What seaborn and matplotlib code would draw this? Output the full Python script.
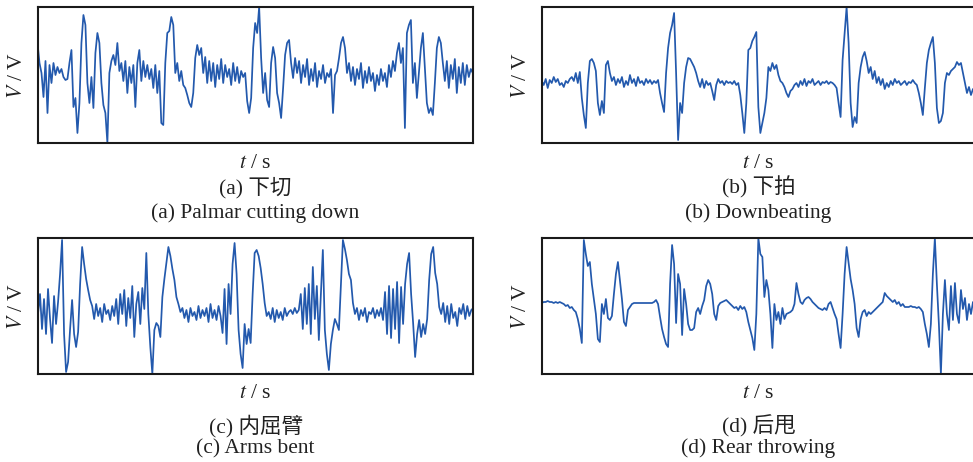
import numpy as np
import pandas as pd
import matplotlib
matplotlib.use("Agg")
import matplotlib.pyplot as plt
import seaborn as sns

# ---------------- data (signal amplitudes, arbitrary V units) ----------------
sig_a = [100, 80, 70, 46, 82, 30, 78, 60, 80, 68, 76, 70, 74, 66, 63, 64, 80, 93, 36, 45,
         10, 40, 100, 128, 118, 60, 40, 66, 35, 90, 110, 100, 60, 38, 30, 0, 70, 82, 88, 78,
         100, 72, 80, 62, 82, 50, 76, 60, 78, 36, 80, 93, 62, 82, 66, 78, 64, 74, 55, 78,
         50, 72, 20, 18, 80, 110, 112, 126, 118, 70, 80, 62, 72, 58, 55, 48, 40, 36, 50, 85,
         98, 88, 95, 70, 86, 60, 82, 62, 80, 56, 78, 64, 84, 60, 78, 66, 74, 58, 80, 62,
         76, 60, 72, 66, 70, 42, 30, 45, 95, 120, 110, 136, 85, 50, 70, 43, 36, 80, 96, 85,
         50, 40, 25, 55, 88, 100, 103, 80, 65, 85, 70, 82, 60, 78, 66, 84, 58, 74, 62, 80,
         56, 72, 64, 78, 60, 70, 66, 74, 30, 68, 72, 85, 100, 106, 95, 70, 80, 62, 76, 58,
         74, 64, 80, 55, 72, 60, 76, 62, 70, 52, 68, 58, 74, 62, 70, 56, 78, 66, 82, 72,
         90, 100, 80, 95, 15, 110, 118, 123, 60, 80, 45, 70, 95, 110, 75, 40, 30, 35, 28, 60,
         95, 106, 100, 80, 62, 82, 55, 78, 64, 84, 50, 76, 60, 80, 58, 78, 66, 74, 70]

sig_b = [62, 58, 64, 55, 63, 60, 66, 61, 64, 58, 60, 56, 62, 60, 64, 66, 62, 70, 60, 71,
         45, 28, 15, 60, 82, 84, 80, 72, 40, 28, 42, 30, 78, 82, 70, 62, 66, 58, 64, 60,
         66, 56, 62, 58, 68, 60, 64, 57, 66, 60, 62, 58, 64, 60, 63, 59, 62, 60, 63, 50,
         40, 31, 70, 95, 110, 118, 130, 70, 3, 40, 30, 60, 76, 85, 84, 80, 76, 70, 62, 56,
         64, 55, 62, 58, 60, 52, 43, 58, 64, 60, 62, 58, 62, 60, 61, 59, 62, 58, 60, 48,
         30, 10, 40, 93, 95, 102, 106, 111, 36, 10, 20, 30, 45, 76, 72, 80, 74, 78, 68, 62,
         60, 56, 50, 46, 52, 54, 58, 60, 56, 62, 58, 64, 57, 62, 60, 64, 58, 60, 62, 58,
         61, 60, 62, 59, 61, 60, 58, 55, 40, 26, 83, 110, 136, 100, 40, 16, 26, 20, 60, 76,
         86, 91, 82, 70, 76, 64, 72, 60, 66, 58, 64, 54, 60, 56, 62, 58, 64, 60, 62, 58,
         60, 62, 58, 61, 60, 63, 60, 58, 50, 40, 28, 55, 80, 93, 100, 106, 80, 35, 20, 22,
         30, 60, 70, 68, 72, 74, 76, 81, 78, 80, 70, 60, 50, 56, 48, 54, 52, 55]

sig_c = [60, 80, 45, 75, 40, 85, 55, 31, 78, 50, 72, 100, 134, 40, 2, 12, 45, 74, 40, 27,
         42, 90, 127, 110, 95, 84, 74, 68, 55, 70, 58, 66, 52, 70, 60, 64, 54, 68, 58, 75,
         50, 80, 60, 84, 48, 76, 56, 88, 37, 70, 82, 50, 86, 65, 121, 60, 27, 0, 44, 51,
         48, 37, 77, 95, 111, 127, 118, 105, 94, 77, 70, 62, 66, 56, 64, 52, 66, 58, 62, 54,
         68, 56, 64, 58, 66, 52, 70, 56, 64, 54, 68, 58, 41, 85, 30, 90, 60, 110, 131, 100,
         44, 20, 6, 50, 30, 45, 31, 80, 121, 124, 118, 106, 90, 71, 58, 62, 55, 66, 52, 64,
         56, 62, 54, 66, 58, 62, 64, 60, 66, 61, 64, 80, 45, 86, 50, 90, 40, 107, 55, 88,
         34, 80, 124, 44, 20, 4, 30, 44, 55, 50, 44, 90, 134, 125, 114, 100, 94, 71, 60, 66,
         54, 64, 58, 66, 52, 62, 60, 66, 56, 64, 58, 66, 54, 82, 40, 88, 36, 85, 45, 92,
         31, 87, 50, 90, 110, 121, 80, 51, 17, 40, 54, 37, 50, 40, 55, 94, 120, 127, 101, 90,
         67, 60, 71, 52, 68, 50, 70, 56, 62, 48, 66, 60, 70, 55, 68, 58, 64, 66]

sig_d = [71, 72, 72, 73, 72, 72, 71, 72, 71, 72, 71, 70, 68, 69, 66, 67, 64, 62, 55, 45,
         31, 134, 120, 108, 112, 90, 75, 60, 35, 32, 70, 60, 75, 56, 54, 58, 80, 100, 112, 94,
         75, 52, 48, 64, 67, 70, 71, 71, 71, 71, 71, 71, 71, 71, 71, 71, 72, 74, 70, 57,
         45, 37, 30, 27, 90, 129, 110, 51, 100, 90, 39, 85, 70, 50, 44, 44, 46, 62, 66, 60,
         68, 74, 88, 94, 90, 80, 60, 54, 68, 71, 72, 73, 74, 72, 70, 68, 66, 67, 64, 68,
         65, 67, 62, 52, 44, 36, 24, 60, 136, 120, 117, 77, 94, 84, 60, 26, 70, 54, 62, 50,
         66, 55, 60, 61, 62, 64, 70, 91, 80, 72, 70, 74, 76, 77, 75, 72, 70, 68, 66, 65,
         64, 66, 64, 70, 72, 66, 60, 55, 40, 26, 60, 100, 127, 111, 95, 84, 70, 46, 37, 55,
         62, 64, 58, 62, 60, 62, 64, 66, 68, 70, 72, 81, 78, 76, 74, 72, 74, 70, 72, 68,
         70, 67, 67, 67, 68, 67, 67, 66, 67, 65, 62, 50, 40, 27, 50, 100, 136, 90, 50, 0,
         60, 94, 60, 44, 88, 54, 91, 60, 51, 84, 65, 76, 54, 70, 60, 72, 67, 65]

signals = [sig_a, sig_b, sig_c, sig_d]
captions_cn = ["(a) 下切", "(b) 下拍", "(c) 内屈臂", "(d) 后甩"]
captions_en = ["(a) Palmar cutting down", "(b) Downbeating", "(c) Arms bent", "(d) Rear throwing"]
xlabel = "$t$ / s"
ylabel = "$V$ / V"

# ---------------- style ----------------
sns.set_style("white")
plt.rcParams["font.family"] = ["Liberation Serif", "Noto Sans CJK SC"]
plt.rcParams["mathtext.fontset"] = "stix"

W, H = 973, 462
fig = plt.figure(figsize=(W / 100, H / 100), dpi=100)

line_color = "#2359ad"
text_color = "#222222"
# axes boxes in pixels: (left, top, right, bottom)
boxes = [(37.5, 7, 472.8, 143), (541.7, 7, 977, 143),
         (38, 238, 473.3, 374), (541.7, 238, 977, 374)]
# text baselines in pixels: (xlabel y, cn y, en y, ylabel x)
text_rows = [(168, 193, 218, 18), (168, 193, 218, 521),
             (398, 432, 453, 18), (398, 432, 453, 521)]

for i, (sig, box) in enumerate(zip(signals, boxes)):
    l, t, r, b = box
    ax = fig.add_axes([l / W, 1 - b / H, (r - l) / W, (b - t) / H])
    df = pd.DataFrame({"t": np.linspace(0, 1, len(sig)), "v": sig})
    sns.lineplot(data=df, x="t", y="v", ax=ax, color=line_color, linewidth=1.25,
                 estimator=None, sort=False)
    ax.set_xlim(0, 1)
    ax.set_ylim(0, 136)
    ax.set_xticks([])
    ax.set_yticks([])
    ax.set_xlabel("")
    ax.set_ylabel("")
    for s in ax.spines.values():
        s.set_visible(True)
        s.set_color("#1a1a1a")
        s.set_linewidth(1.5)

    xc = (l + min(r, 975)) / 2
    yl, ycn, yen, xv = text_rows[i]
    fig.text(xc / W, 1 - yl / H, xlabel, ha="center", va="baseline", fontsize=15.5, color=text_color)
    fig.text(xc / W, 1 - ycn / H, captions_cn[i], ha="center", va="baseline", fontsize=15.5, color=text_color)
    fig.text(xc / W, 1 - yen / H, captions_en[i], ha="center", va="baseline", fontsize=15.5, color=text_color)
    fig.text(xv / W, 1 - ((t + b) / 2) / H, ylabel, ha="center", va="center", rotation=90,
             fontsize=15.5, color=text_color)

fig.savefig("out.png", dpi=100)
